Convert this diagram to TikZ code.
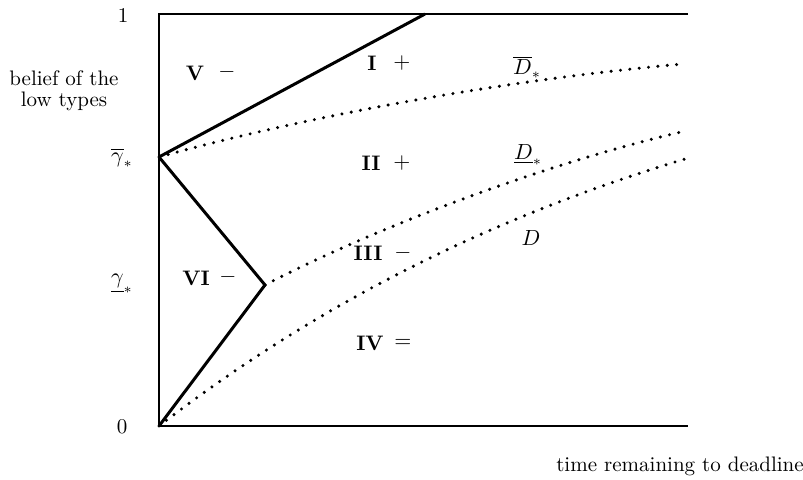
\documentclass[tikz,border=0pt]{standalone}
\usepackage{amsmath,amssymb}

\begin{document}
\fontsize{10.5}{12.5}\selectfont
\begin{tikzpicture}[x=0.5pt,y=-0.5pt,
  frm/.style={line width=1pt},
  bd/.style={line width=1.5pt},
  dts/.style={line width=1.7pt,line cap=round,dash pattern=on 0pt off 4.7pt},
  reg/.style={font=\bfseries},
  lbl/.style={inner sep=1pt}]
\useasboundingbox (0,0) rectangle (803,480);
\coordinate (lt) at (159,14); \coordinate (rt) at (688,14);
\coordinate (o) at (159,426); \coordinate (rb) at (688,426);
\coordinate (gbar) at (159,157); \coordinate (gund) at (265,285);
\coordinate (tp) at (425,14);
\draw[frm] (rt)--(lt)--(o)--(rb);
\draw[bd] (gbar)--(tp);
\draw[bd,line join=miter] (gbar)--(gund)--(o);
\draw[dts] (gbar) .. controls (300,118) and (500,80) .. (683,64);
\draw[dts] (gund) .. controls (370,230) and (540,165) .. (681,132);
\draw[dts] (o) .. controls (312,308) and (485,219) .. (685,159);
\node[lbl] (one) at (123,16) {1};
\node[lbl] (zero) at (122,427) {0};
\node[lbl] (gb) at (122,158) {$\overline{\gamma}_*$};
\node[lbl] (gu) at (122,284) {$\underline{\gamma}_*$};
\node[lbl,align=center] (ylab) at (64,91) {belief of the\\[-2pt]low types};
\node[lbl] (xlab) at (680,466) {time remaining to deadline};
\node[reg] (r5) at (195,73) {V}; \node (s5) at (227,72) {$-$};
\node[reg] (r1) at (372,63) {I}; \node (s1) at (402,63) {$+$};
\node[reg] (r2) at (371,163) {II}; \node (s2) at (402,163) {$+$};
\node[reg] (r3) at (368,253) {III}; \node (s3) at (403,253) {$-$};
\node[reg] (r4) at (370,343) {IV}; \node (s4) at (403,343) {$=$};
\node[reg] (r6) at (196,278) {VI}; \node (s6) at (228,277) {$-$};
\node[lbl] (dbar) at (527,67) {$\overline{D}_*$};
\node[lbl] (dund) at (528,155) {$\underline{D}_*$};
\node[lbl] (dd) at (531,238) {$D$};
\end{tikzpicture}
\end{document}
